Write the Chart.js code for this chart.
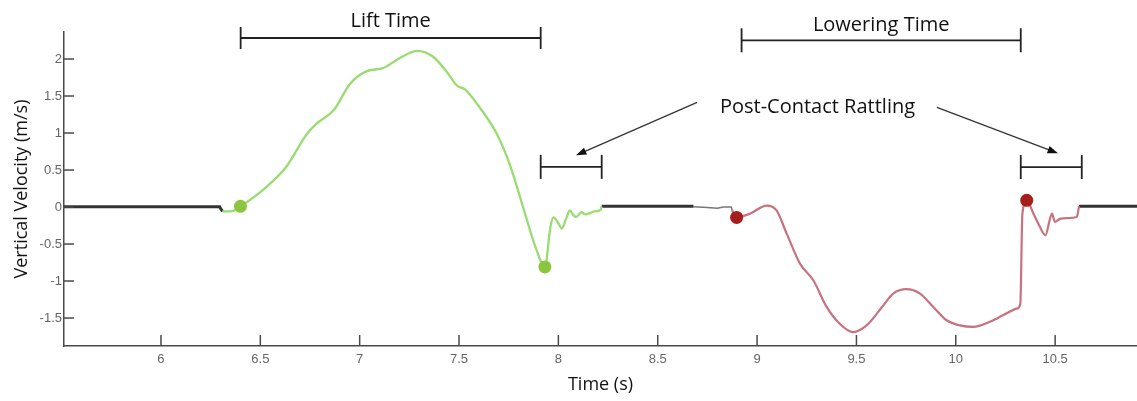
<!DOCTYPE html>
<html>
<head>
<meta charset="utf-8">
<script src="https://cdn.jsdelivr.net/npm/chart.js@4.4.0/dist/chart.umd.min.js"></script>
<style>
    html, body { margin: 0; padding: 0; background: #fff; }
    #velChart { display: block; }
</style>
</head>
<body>
<canvas id="velChart" width="1137" height="401"></canvas>
<script>
// tick labels
var xTicks = [6, 6.5, 7, 7.5, 8, 8.5, 9, 9.5, 10, 10.5];
var yTicks = [-1.5, -1, -0.5, 0, 0.5, 1, 1.5, 2];

// resting parts of the trace (black)
var restTime1 = [5.51, 6.295, 6.30, 6.31];
var restVel1  = [0.005, 0.005, -0.02, -0.06];
var restTime2 = [8.218, 8.45, 8.68];
var restVel2  = [0.01, 0.01, 0.01];
var restTime3 = [10.62, 10.912];
var restVel3  = [0.01, 0.01];
// thin grey bit just before lowering starts
var idleTime = [8.68, 8.75, 8.80, 8.83, 8.87, 8.875];
var idleVel  = [0.005, -0.005, -0.015, 0.0, 0.0, -0.05];

// lift (green)
var liftTime = [6.31, 6.36, 6.40, 6.45, 6.53, 6.63, 6.73, 6.78, 6.87, 6.95, 7.03, 7.12, 7.20, 7.29,
                7.37, 7.44, 7.49, 7.53, 7.60, 7.69, 7.76, 7.82, 7.89, 7.932, 7.96, 7.975, 8.00, 8.017,
                8.04, 8.058, 8.075, 8.089, 8.117, 8.135, 8.151, 8.18, 8.212, 8.218];
var liftVel  = [-0.06, -0.055, 0.01, 0.10, 0.27, 0.54, 0.97, 1.12, 1.31, 1.66, 1.83, 1.88, 2.01, 2.11,
                2.03, 1.82, 1.64, 1.59, 1.36, 0.99, 0.54, 0.02, -0.58, -0.81, -0.27, -0.14, -0.22, -0.29,
                -0.15, -0.045, -0.11, -0.135, -0.07, -0.10, -0.09, -0.06, -0.04, 0.01];

// lowering (red)
var lowerTime = [8.875, 8.897, 8.964, 9.048, 9.098, 9.149, 9.216, 9.283, 9.35, 9.417, 9.484, 9.551,
                 9.635, 9.685, 9.752, 9.82, 9.887, 9.954, 10.021, 10.088, 10.172, 10.239, 10.31, 10.325,
                 10.335, 10.357, 10.391, 10.42, 10.451, 10.475, 10.484, 10.499, 10.524, 10.56, 10.608,
                 10.613, 10.62];
var lowerVel  = [-0.05, -0.14, -0.09, 0.02, -0.045, -0.36, -0.765, -0.99, -1.35, -1.58, -1.69, -1.60,
                 -1.33, -1.17, -1.11, -1.17, -1.35, -1.53, -1.60, -1.62, -1.55, -1.46, -1.37, -1.30,
                 -0.10, 0.09, -0.09, -0.25, -0.38, -0.15, -0.09, -0.20, -0.16, -0.15, -0.135,
                 -0.10, 0.01];

// contact events
var liftDotTime  = [6.40, 7.932];
var liftDotVel   = [0.01, -0.81];
var lowerDotTime = [8.897, 10.357];
var lowerDotVel  = [-0.14, 0.09];

function pts(xs, ys){
    return xs.map(function(x, i){ return {x: x, y: ys[i]}; });
}

var textFamily = '"Open Sans", Lato, sans-serif';
var annFont = '20px ' + textFamily;
var tickFont = {family: 'Liberation Sans, Arial, sans-serif', size: 13};

// brackets, labels and arrows, placed in data units
var brackets = [
    {from: 6.401, to: 7.911, at: 2.284, cap: 11, text: 'Lift Time', lift: 17},
    {from: 8.922, to: 10.327, at: 2.253, cap: 12, text: 'Lowering Time', lift: 15},
    {from: 7.911, to: 8.218, at: 0.543, cap: 12},
    {from: 10.327, to: 10.634, at: 0.54, cap: 12}
];
var noteText = {x: 9.304, y: 1.347, text: 'Post-Contact Rattling'};
var arrows = [
    {x1: 8.698, y1: 1.414, x2: 8.089, y2: 0.699},
    {x1: 9.905, y1: 1.347, x2: 10.514, y2: 0.726}
];

var extras = {
    id: 'extras',
    afterDraw: function(chart){
        var ctx = chart.ctx;
        var xs = chart.scales.x, ys = chart.scales.y, area = chart.chartArea;
        ctx.save();
        function seg(a, b, c, d){
            ctx.beginPath(); ctx.moveTo(a, b); ctx.lineTo(c, d); ctx.stroke();
        }
        // ticks point inward
        ctx.strokeStyle = '#4a4a4a';
        ctx.lineWidth = 1.5;
        xs.ticks.forEach(function(t){
            var px = xs.getPixelForValue(t.value);
            seg(px, area.bottom, px, area.bottom - 11);
        });
        ys.ticks.forEach(function(t){
            var py = ys.getPixelForValue(t.value);
            seg(area.left, py, area.left + 10, py);
        });
        // brackets
        ctx.strokeStyle = '#222';
        ctx.lineWidth = 1.8;
        ctx.fillStyle = '#111';
        ctx.font = annFont;
        ctx.textAlign = 'center';
        ctx.textBaseline = 'middle';
        brackets.forEach(function(b){
            var l = xs.getPixelForValue(b.from), r = xs.getPixelForValue(b.to);
            var py = ys.getPixelForValue(b.at);
            seg(l, py, r, py);
            seg(l, py - b.cap, l, py + b.cap);
            seg(r, py - b.cap, r, py + b.cap);
            if(b.text){
                ctx.fillText(b.text, (l + r) / 2, py - b.lift);
            }
        });
        ctx.fillText(noteText.text, xs.getPixelForValue(noteText.x), ys.getPixelForValue(noteText.y));
        // arrows
        ctx.strokeStyle = '#333';
        ctx.fillStyle = '#111';
        ctx.lineWidth = 1.2;
        arrows.forEach(function(a){
            var x1 = xs.getPixelForValue(a.x1), y1 = ys.getPixelForValue(a.y1);
            var x2 = xs.getPixelForValue(a.x2), y2 = ys.getPixelForValue(a.y2);
            var ang = Math.atan2(y2 - y1, x2 - x1);
            seg(x1, y1, x2 - 6 * Math.cos(ang), y2 - 6 * Math.sin(ang));
            ctx.beginPath();
            ctx.moveTo(x2, y2);
            ctx.lineTo(x2 - 11 * Math.cos(ang - 0.35), y2 - 11 * Math.sin(ang - 0.35));
            ctx.lineTo(x2 - 11 * Math.cos(ang + 0.35), y2 - 11 * Math.sin(ang + 0.35));
            ctx.closePath();
            ctx.fill();
        });
        ctx.restore();
    }
};

var restStyle = {showLine: true, borderColor: '#333', borderWidth: 3, pointRadius: 0, order: 2};

var ctx = document.getElementById('velChart');
var velChart = new Chart(ctx, {
    type: 'scatter',
    data: {
        datasets: [
            {data: pts(liftDotTime, liftDotVel), backgroundColor: '#8cc63f', borderWidth: 0, pointRadius: 6.5, order: 0},
            {data: pts(lowerDotTime, lowerDotVel), backgroundColor: '#a51d1d', borderWidth: 0, pointRadius: 6.5, order: 0},
            {data: pts(liftTime, liftVel), showLine: true, borderColor: '#98dc72', borderWidth: 2.3,
                pointRadius: 0, cubicInterpolationMode: 'monotone', order: 1},
            {data: pts(lowerTime, lowerVel), showLine: true, borderColor: '#c8727f', borderWidth: 2.2,
                pointRadius: 0, cubicInterpolationMode: 'monotone', order: 1},
            Object.assign({data: pts(restTime1, restVel1)}, restStyle),
            Object.assign({data: pts(restTime2, restVel2)}, restStyle),
            Object.assign({data: pts(restTime3, restVel3)}, restStyle),
            {data: pts(idleTime, idleVel), showLine: true, borderColor: '#777', borderWidth: 1.5, pointRadius: 0, order: 2}
        ]
    },
    options: {
        responsive: false,
        animation: false,
        devicePixelRatio: 1,
        layout: {autoPadding: false, padding: {top: 32, left: 0, right: 0, bottom: 0}},
        plugins: {legend: {display: false}, tooltip: {enabled: false}},
        scales: {
            x: {
                type: 'linear',
                min: 5.512,
                max: 10.912,
                afterBuildTicks: function(s){ s.ticks = xTicks.map(function(v){ return {value: v}; }); },
                afterFit: function(s){ s.height = 55; },
                grid: {drawOnChartArea: false, drawTicks: false},
                border: {color: '#4a4a4a', width: 1.5},
                ticks: {font: tickFont, color: '#666', padding: 6, maxRotation: 0,
                    callback: function(v){ return String(v); }},
                title: {display: true, text: 'Time (s)', color: '#111',
                    font: {family: textFamily, size: 18}, padding: {top: 0, bottom: 5}}
            },
            y: {
                type: 'linear',
                min: -1.878,
                max: 2.365,
                afterBuildTicks: function(s){ s.ticks = yTicks.map(function(v){ return {value: v}; }); },
                afterFit: function(s){ s.width = 64; },
                grid: {drawOnChartArea: false, drawTicks: false},
                border: {color: '#4a4a4a', width: 1.5},
                ticks: {font: tickFont, color: '#666', padding: 2,
                    callback: function(v){ return String(v); }},
                title: {display: true, text: 'Vertical Velocity (m/s)', color: '#111',
                    font: {family: textFamily, size: 18}, padding: {top: 11, bottom: 0}}
            }
        }
    },
    plugins: [extras]
});
</script>
</body>
</html>
